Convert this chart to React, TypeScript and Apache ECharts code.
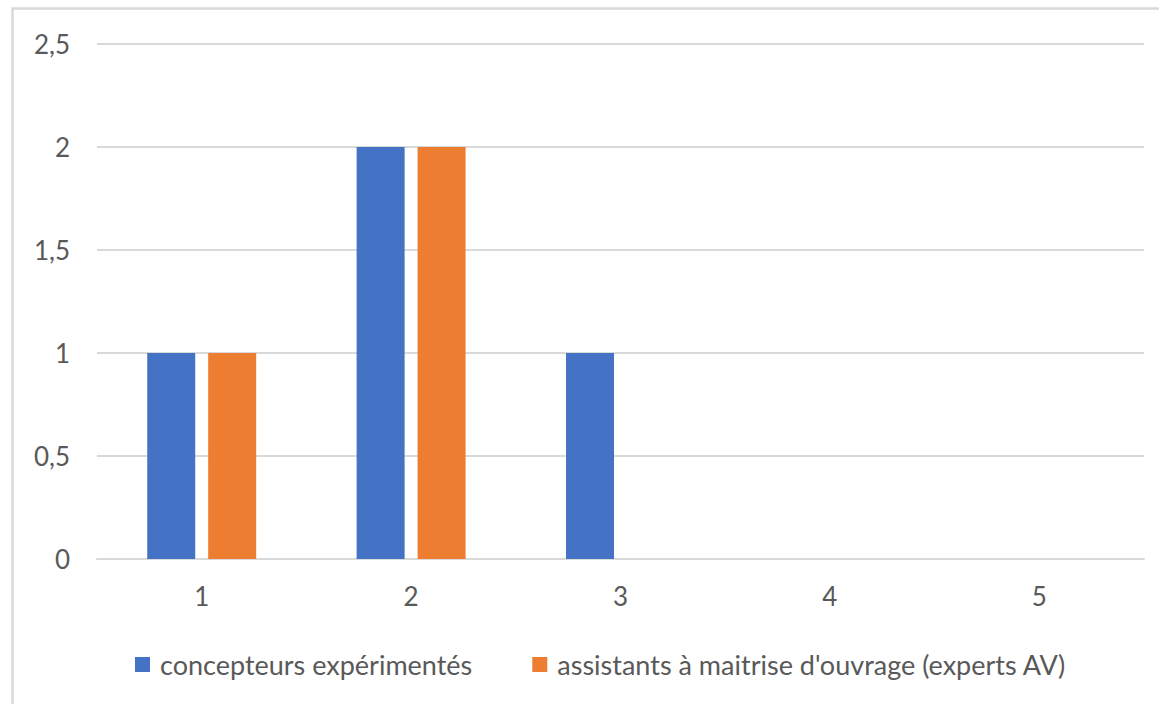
import React, { useEffect, useRef } from "react";
import * as echarts from "echarts";

const categories = ["1", "2", "3", "4", "5"];
const seriesNames = ["concepteurs expérimentés", "assistants à maitrise d'ouvrage (experts AV)"];
const blueValues = [1, 2, 1, 0, 0];
const orangeValues = [1, 2, 0, 0, 0];
const yTicks = { min: 0, max: 2.5, interval: 0.5 };

export default function App() {
  const ref = useRef<HTMLDivElement>(null);
  useEffect(() => {
    const chart = echarts.init(ref.current!, undefined, { renderer: "svg" });
    const font = "Lato, 'Open Sans', sans-serif";
    chart.setOption({
      animation: false,
      backgroundColor: "#ffffff",
      textStyle: { fontFamily: font },
      graphic: [
        {
          type: "rect",
          shape: { x: 12.5, y: 8.5, width: 1170, height: 720 },
          style: { fill: "none", stroke: "#d9d9d9", lineWidth: 2.5 },
          silent: true,
        },
      ],
      grid: { left: 97, right: 15, top: 44, bottom: 145, containLabel: false },
      legend: {
        left: 130,
        top: 646,
        itemWidth: 15,
        itemHeight: 15,
        itemGap: 60,
        icon: "rect",
        textStyle: { fontSize: 27, color: "#595959", fontFamily: font, padding: [0, 0, 0, 5] },
        data: seriesNames,
      },
      xAxis: {
        type: "category",
        data: categories,
        axisLine: { show: true, lineStyle: { color: "#d9d9d9", width: 2 } },
        axisTick: { show: false },
        axisLabel: { fontSize: 26, color: "#595959", margin: 24, fontFamily: font },
      },
      yAxis: {
        type: "value",
        min: yTicks.min,
        max: yTicks.max,
        interval: yTicks.interval,
        axisLine: { show: false },
        axisTick: { show: false },
        splitLine: { lineStyle: { color: "#d9d9d9", width: 2 } },
        axisLabel: {
          fontSize: 26,
          color: "#595959",
          margin: 27,
          fontFamily: font,
          formatter: (v: number) => String(v).replace(".", ","),
        },
      },
      series: [
        {
          name: seriesNames[0],
          type: "bar",
          data: blueValues,
          barWidth: 48,
          barGap: "27%",
          itemStyle: { color: "#4472c4" },
        },
        {
          name: seriesNames[1],
          type: "bar",
          data: orangeValues,
          barWidth: 48,
          itemStyle: { color: "#ed7d31" },
        },
      ],
    });
    return () => chart.dispose();
  }, []);
  return (
    <div style={{ position: "fixed", left: 0, top: 0, width: 1159, height: 704, background: "#fff" }}>
      <div ref={ref} style={{ width: 1159, height: 704 }} />
    </div>
  );
}
